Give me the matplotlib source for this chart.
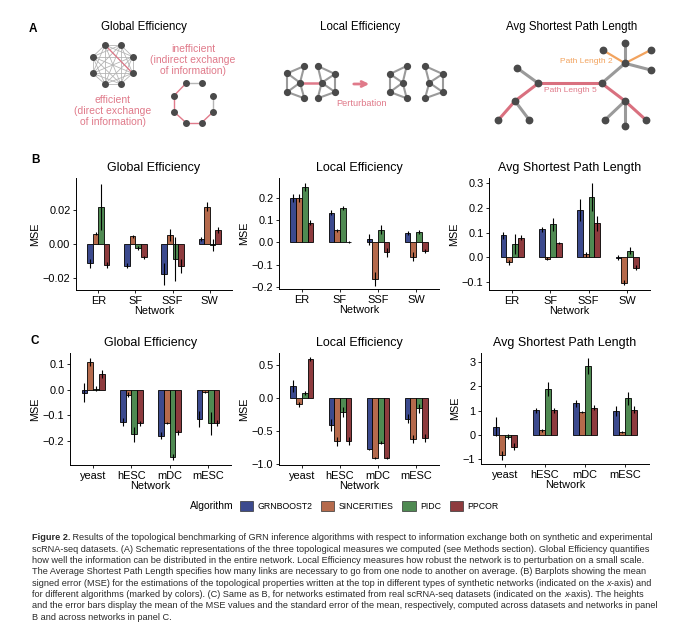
import itertools
import numpy as np
import matplotlib
matplotlib.use("Agg")
import matplotlib.pyplot as plt
from matplotlib.patches import Patch

plt.rcParams["font.family"] = ["Liberation Sans", "DejaVu Sans"]
plt.rcParams["axes.unicode_minus"] = True

# ---- data ----
algorithms = ["GRNBOOST2", "SINCERITIES", "PIDC", "PPCOR"]
networks_syn = ["ER", "SF", "SSF", "SW"]
networks_real = ["yeast", "hESC", "mDC", "mESC"]

# rows = networks, cols = algorithms
glob_syn_mean = [[-0.0115, 0.006, 0.022, -0.0125],
                 [-0.013, 0.0045, -0.0025, -0.008],
                 [-0.018, 0.0055, -0.009, -0.013],
                 [0.003, 0.022, -0.0005, 0.008]]
glob_syn_err = [[0.0028, 0.001, 0.0135, 0.0015],
                [0.0015, 0.001, 0.001, 0.001],
                [0.0065, 0.0035, 0.013, 0.004],
                [0.001, 0.0025, 0.0035, 0.0017]]

loc_syn_mean = [[0.20, 0.20, 0.25, 0.089],
                [0.134, 0.054, 0.155, 0.002],
                [0.015, -0.165, 0.058, -0.044],
                [0.042, -0.065, 0.047, -0.040]]
loc_syn_err = [[0.02, 0.02, 0.018, 0.01],
               [0.01, 0.008, 0.008, 0.004],
               [0.025, 0.03, 0.02, 0.02],
               [0.01, 0.02, 0.01, 0.01]]

aspl_syn_mean = [[0.089, -0.021, 0.052, 0.079],
                 [0.113, -0.005, 0.133, 0.058],
                 [0.19, 0.012, 0.243, 0.138],
                 [-0.002, -0.103, 0.027, -0.043]]
aspl_syn_err = [[0.015, 0.01, 0.04, 0.01],
                [0.01, 0.005, 0.025, 0.004],
                [0.045, 0.01, 0.058, 0.03],
                [0.01, 0.01, 0.015, 0.01]]

glob_real_mean = [[-0.012, 0.107, 0.003, 0.06],
                  [-0.125, -0.02, -0.173, -0.13],
                  [-0.178, -0.13, -0.26, -0.165],
                  [-0.113, -0.008, -0.13, -0.128]]
glob_real_err = [[0.037, 0.015, 0.01, 0.015],
                 [0.015, 0.01, 0.03, 0.01],
                 [0.012, 0.003, 0.012, 0.01],
                 [0.03, 0.004, 0.045, 0.012]]

loc_real_mean = [[0.177, -0.1, 0.066, 0.585],
                 [-0.42, -0.66, -0.22, -0.66],
                 [-0.78, -0.915, -0.68, -0.915],
                 [-0.32, -0.625, -0.16, -0.615]]
loc_real_err = [[0.09, 0.04, 0.03, 0.03],
                [0.09, 0.07, 0.08, 0.06],
                [0.01, 0.02, 0.02, 0.02],
                [0.07, 0.06, 0.07, 0.06]]

aspl_real_mean = [[0.33, -0.86, -0.08, -0.5],
                  [1.01, 0.18, 1.9, 1.01],
                  [1.3, 0.94, 2.85, 1.12],
                  [0.98, 0.12, 1.51, 1.03]]
aspl_real_err = [[0.4, 0.2, 0.1, 0.15],
                 [0.1, 0.05, 0.3, 0.1],
                 [0.15, 0.03, 0.35, 0.1],
                 [0.2, 0.03, 0.27, 0.15]]

# schematic graphs for panel A (pixel positions)
complete_nodes = [(105, 45), (120.7, 45), (132.7, 56.7), (132.7, 73.3),
                  (120.7, 84), (105, 84), (92.7, 73.3), (92.7, 56.7)]
ring_nodes = [(186, 83.3), (201.7, 83.3), (213.3, 95.7), (213.3, 111.7),
              (201.7, 122.7), (186, 122.7), (174, 111.7), (174, 95.7)]
ring_grey = [(0, 1), (2, 3)]
ring_red = [(0, 7), (7, 6), (6, 5), (5, 4), (4, 3)]

clus_left = [(287.3, 73.3), (304.3, 66), (300, 82.7), (287.3, 92), (304.3, 98.3)]
clus_right = [(317.7, 66), (335, 74), (321.7, 82.7), (335, 92), (317.7, 98.3)]
clus_left_split = [(390, 74), (406.7, 66), (402.7, 82.7), (390, 92), (406.7, 98.3)]
clus_right_split = [(425, 66), (442.7, 74), (429.3, 82.7), (442.7, 92), (425, 98.3)]
edges_left = [(0, 1), (0, 3), (0, 2), (1, 2), (2, 3), (3, 4), (2, 4)]
edges_right = [(0, 1), (1, 3), (1, 2), (0, 2), (2, 3), (3, 4), (2, 4)]

tree_nodes = [(538.3, 83.3), (601.7, 83.3), (516.7, 67.7), (515, 101), (498.3, 120),
              (529.3, 120), (625, 63.3), (602.7, 50), (625, 43.3), (650.7, 50),
              (650.7, 70), (625, 101), (605, 120), (625, 125.7), (646, 120)]
tree_grey = [(0, 2), (3, 5), (1, 6), (6, 8), (6, 10), (11, 12), (11, 13)]
tree_red = [(4, 3), (3, 0), (0, 1), (1, 11), (11, 14)]
tree_orange = [(7, 6), (6, 9)]

# caption lines as (text, style) segments
caption = [
    [("Figure 2.", "bold"), (" Results of the topological benchmarking of GRN inference algorithms with respect to information exchange both on synthetic and experimental", "normal")],
    [("scRNA-seq datasets. (A) Schematic representations of the three topological measures we computed (see Methods section). Global Efficiency quantifies", "normal")],
    [("how well the information can be distributed in the entire network. Local Efficiency measures how robust the network is to perturbation on a small scale.", "normal")],
    [("The Average Shortest Path Length specifies how many links are necessary to go from one node to another on average. (B) Barplots showing the mean", "normal")],
    [("signed error (MSE) for the estimations of the topological properties written at the top in different types of synthetic networks (indicated on the ", "normal"),
     ("x", "italic"), ("-axis) and", "normal")],
    [("for different algorithms (marked by colors). (C) Same as B, for networks estimated from real scRNA-seq datasets (indicated on the ", "normal"),
     ("x", "italic"), ("-axis). The heights", "normal")],
    [("and the error bars display the mean of the MSE values and the standard error of the mean, respectively, computed across datasets and networks in panel", "normal")],
    [("B and across networks in panel C.", "normal")],
]

# ---- style ----
alg_colors = ["#3C4A8E", "#B56A4C", "#4F8A52", "#8E3B3E"]
pink = "#E07A8A"
orange = "#F2A35E"
node_c = "#4A4A4A"
edge_c = "#9A9A9A"

W, H = 680, 632
fig = plt.figure(figsize=(W / 100, H / 100), dpi=100)
fig.patch.set_facecolor("white")


def px_rect(left, top, right, bottom):
    return [left / W, 1 - bottom / H, (right - left) / W, (bottom - top) / H]


# overlay axes in pixel units for panel A and labels
ax0 = fig.add_axes([0, 0, 1, 1])
ax0.set_xlim(0, W)
ax0.set_ylim(H, 0)
ax0.axis("off")


def draw_edges(nodes, edges, color, lw):
    for a, b in edges:
        ax0.plot([nodes[a][0], nodes[b][0]], [nodes[a][1], nodes[b][1]],
                 color=color, lw=lw, solid_capstyle="round", zorder=2)


def draw_nodes(nodes, ms):
    xs, ys = zip(*nodes)
    ax0.plot(xs, ys, "o", color=node_c, ms=ms, zorder=3)


for lab, x, y in [("A", 33, 29), ("B", 35, 160), ("C", 35, 341)]:
    ax0.text(x, y, lab, fontsize=8.5, fontweight="bold", ha="center", va="center")

for t, x in [("Global Efficiency", 144), ("Local Efficiency", 360), ("Avg Shortest Path Length", 572)]:
    ax0.text(x, 27, t, fontsize=8.3, ha="center", va="center")

# global efficiency schematic
draw_edges(complete_nodes, list(itertools.combinations(range(len(complete_nodes)), 2)), "#B5B5B5", 0.6)
draw_edges(complete_nodes, [(0, 3)], pink, 0.9)
draw_nodes(complete_nodes, 4)
draw_edges(ring_nodes, ring_grey, "#B5B5B5", 1.0)
draw_edges(ring_nodes, ring_red, pink, 1.0)
draw_nodes(ring_nodes, 4)
ax0.text(193, 60, "inefficient\n(indirect exchange\nof information)", color=pink,
         fontsize=7.5, ha="center", va="center", linespacing=1.1)
ax0.text(112.7, 111, "efficient\n(direct exchange\nof information)", color=pink,
         fontsize=7.5, ha="center", va="center", linespacing=1.1)

# local efficiency schematic
for nodes, edges in [(clus_left, edges_left), (clus_right, edges_right),
                     (clus_left_split, edges_left), (clus_right_split, edges_right)]:
    draw_edges(nodes, edges, edge_c, 1.5)
ax0.plot([clus_left[2][0], clus_right[2][0]], [clus_left[2][1], clus_right[2][1]],
         color=pink, lw=1.8, zorder=2)
for nodes in [clus_left, clus_right, clus_left_split, clus_right_split]:
    draw_nodes(nodes, 4.2)
ax0.annotate("", xy=(372, 84), xytext=(351, 84),
             arrowprops=dict(arrowstyle="->", color=pink, lw=2, mutation_scale=9))
ax0.text(361.7, 103.3, "Perturbation", color=pink, fontsize=6.7, ha="center", va="center")

# shortest path schematic
draw_edges(tree_nodes, tree_grey, edge_c, 2.2)
draw_edges(tree_nodes, tree_red, "#D9707F", 2.2)
draw_edges(tree_nodes, tree_orange, orange, 1.6)
draw_nodes(tree_nodes, 4.6)
ax0.text(586, 61.7, "Path Length 2", color=orange, fontsize=6, ha="center", va="center")
ax0.text(570, 90, "Path Length 5", color=pink, fontsize=6, ha="center", va="center")

# ---- bar panels ----
offsets = [-0.225, -0.075, 0.075, 0.225]


def bar_panel(rect, cats, means, errs, title, ylim, yticks, yticklabels):
    ax = fig.add_axes(px_rect(*rect))
    x = np.arange(1, len(cats) + 1)
    means = np.asarray(means)
    errs = np.asarray(errs)
    for j in range(len(algorithms)):
        ax.bar(x + offsets[j], means[:, j], width=0.15, color=alg_colors[j],
               edgecolor="black", linewidth=0.6, zorder=2)
    for j in range(len(algorithms)):
        ax.vlines(x + offsets[j], means[:, j] - errs[:, j], means[:, j] + errs[:, j],
                  color="black", lw=0.8, zorder=3)
    ax.set_xlim(0.4, len(cats) + 0.6)
    ax.set_ylim(*ylim)
    ax.set_xticks(x)
    ax.set_xticklabels(cats)
    ax.set_yticks(yticks)
    ax.set_yticklabels(yticklabels)
    ax.set_title(title, fontsize=9, pad=5)
    ax.set_xlabel("Network", fontsize=7.8, labelpad=0.5)
    ax.set_ylabel("MSE", fontsize=7.8, labelpad=2)
    ax.tick_params(length=2.5, width=0.6, labelsize=7.9, pad=1.5, color="black")
    for s in ["top", "right"]:
        ax.spines[s].set_visible(False)
    for s in ["left", "bottom"]:
        ax.spines[s].set_linewidth(0.7)
    ax.patch.set_alpha(0)
    return ax


bar_panel((76, 178, 232, 290), networks_syn, glob_syn_mean, glob_syn_err,
          "Global Efficiency", (-0.0273, 0.039), [-0.02, 0, 0.02], ["\u22120.02", "0.00", "0.02"])
bar_panel((279, 178, 439, 289), networks_syn, loc_syn_mean, loc_syn_err,
          "Local Efficiency", (-0.21, 0.29), [-0.2, -0.1, 0, 0.1, 0.2],
          ["\u22120.2", "\u22120.1", "0.0", "0.1", "0.2"])
bar_panel((489, 178, 650, 290), networks_syn, aspl_syn_mean, aspl_syn_err,
          "Avg Shortest Path Length", (-0.132, 0.32), [-0.1, 0, 0.1, 0.2, 0.3],
          ["\u22120.1", "0.0", "0.1", "0.2", "0.3"])
bar_panel((70, 353, 231, 465), networks_real, glob_real_mean, glob_real_err,
          "Global Efficiency", (-0.292, 0.142), [-0.2, -0.1, 0, 0.1],
          ["\u22120.2", "\u22120.1", "0.0", "0.1"])
bar_panel((279, 353, 439, 465), networks_real, loc_real_mean, loc_real_err,
          "Local Efficiency", (-1.02, 0.677), [-1.0, -0.5, 0, 0.5],
          ["\u22121.0", "\u22120.5", "0.0", "0.5"])
bar_panel((481, 353, 649, 464), networks_real, aspl_real_mean, aspl_real_err,
          "Avg Shortest Path Length", (-1.216, 3.39), [-1, 0, 1, 2, 3],
          ["\u22121", "0", "1", "2", "3"])

# ---- legend ----
ax0.text(212, 506, "Algorithm", fontsize=7.4, ha="center", va="center")
handles = [Patch(facecolor=c, edgecolor="#333333", linewidth=0.5, label=a)
           for a, c in zip(algorithms, alg_colors)]
fig.legend(handles=handles, loc="center left", bbox_to_anchor=(240 / W, 1 - 506 / H),
           ncol=4, frameon=False, fontsize=6.3, handlelength=1.5, handleheight=1.5,
           handletextpad=0.5, columnspacing=1.0, borderpad=0, borderaxespad=0)

# ---- caption ----
cap_size = 6.6
renderer = fig.canvas.get_renderer()
for i, segments in enumerate(caption):
    x0 = 32
    for text, style in segments:
        t = ax0.text(x0, 538 + i * 11.3, text, fontsize=cap_size, color="#2A2A2A",
                     ha="left", va="center",
                     fontweight="bold" if style == "bold" else "normal",
                     fontstyle="italic" if style == "italic" else "normal")
        x0 += t.get_window_extent(renderer).width

fig.savefig("out.png", dpi=100, facecolor="white")
